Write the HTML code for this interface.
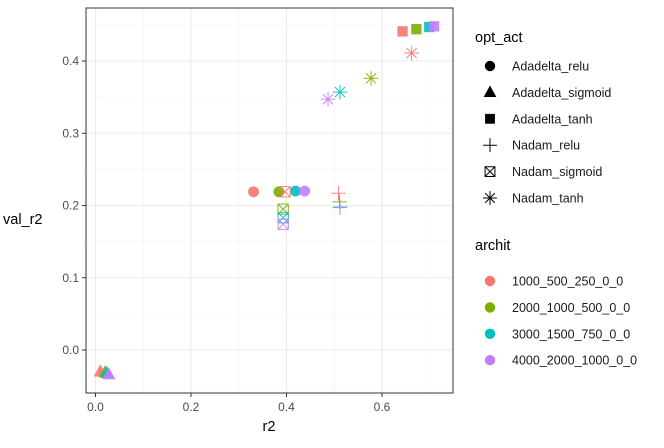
<!DOCTYPE html><html><head><meta charset="utf-8"><style>
body{margin:0;background:#fff;font-family:"Liberation Sans",sans-serif}
</style></head><body>
<svg width="664" height="443" font-family="Liberation Sans, sans-serif">
<g id="grid"></g>
<g id="pts"></g>
<rect x="86" y="8" width="367" height="385" fill="none" stroke="#333" stroke-width="1"/>
<g id="axes"></g>
<text x="269" y="431" font-size="14.5" text-anchor="middle" fill="#000">r2</text>
<text x="3" y="224" font-size="14.5" fill="#000">val_r2</text>
<g id="legend"></g>
</svg>
<script>
const xTicks=[0,0.2,0.4,0.6];
const yTicks=[0,0.1,0.2,0.3,0.4];
const colors=['#F8766D','#7CAE00','#00BFC4','#C77CFF'];
const archits=['1000_500_250_0_0','2000_1000_500_0_0','3000_1500_750_0_0','4000_2000_1000_0_0'];
const opts=['Adadelta_relu','Adadelta_sigmoid','Adadelta_tanh','Nadam_relu','Nadam_sigmoid','Nadam_tanh'];
const r2_adadelta_relu=[0.331,0.384,0.419,0.438];
const v_adadelta_relu=[0.219,0.219,0.220,0.220];
const r2_adadelta_sigmoid=[0.010,0.020,0.024,0.028];
const v_adadelta_sigmoid=[-0.030,-0.031,-0.032,-0.034];
const r2_adadelta_tanh=[0.643,0.672,0.699,0.709];
const v_adadelta_tanh=[0.441,0.444,0.447,0.448];
const r2_nadam_relu=[0.509,0.511,0.512,0.512];
const v_nadam_relu=[0.217,0.205,0.198,0.197];
const r2_nadam_sigmoid=[0.397,0.393,0.393,0.393];
const v_nadam_sigmoid=[0.219,0.195,0.183,0.174];
const r2_nadam_tanh=[0.662,0.577,0.512,0.487];
const v_nadam_tanh=[0.411,0.376,0.357,0.347];
const NS='http://www.w3.org/2000/svg';
const X=v=>95.5+v*477.5, Y=v=>350-v*722.5;
function mk(t,a,p){const e=document.createElementNS(NS,t);for(const k in a)e.setAttribute(k,a[k]);(p||document.getElementById('pts')).appendChild(e);return e;}
const grid=document.getElementById('grid'),axes=document.getElementById('axes');
mk('rect',{x:86,y:8,width:367,height:385,fill:'#fff'},grid);
for(let i=-0.05;i<0.47;i+=0.1){const l=mk('line',{x1:86,x2:453,y1:Y(i),y2:Y(i),stroke:'#f2f2f2','stroke-width':0.6},grid);}
for(let i=0.1;i<0.75;i+=0.2){const l=mk('line',{y1:8,y2:393,x1:X(i),x2:X(i),stroke:'#f2f2f2','stroke-width':0.6},grid);}
xTicks.forEach(t=>{const l=mk('line',{y1:8,y2:393,x1:X(t),x2:X(t),stroke:'#ebebeb','stroke-width':1.1},grid);
mk('line',{y1:393,y2:397,x1:X(t),x2:X(t),stroke:'#333'},axes);
const tx=mk('text',{x:X(t),y:411,'font-size':12,'text-anchor':'middle',fill:'#4d4d4d'},axes);tx.textContent=t.toFixed(1);});
yTicks.forEach(t=>{const l=mk('line',{x1:86,x2:453,y1:Y(t),y2:Y(t),stroke:'#ebebeb','stroke-width':1.1},grid);
mk('line',{x1:82,x2:86,y1:Y(t),y2:Y(t),stroke:'#333'},axes);
const tx=mk('text',{x:79,y:Y(t)+4,'font-size':12,'text-anchor':'end',fill:'#4d4d4d'},axes);tx.textContent=t.toFixed(1);});
function shape(s,x,y,c,p,sz){sz=sz||1.1;const g=mk('g',{},p);const r=5.5*sz;
if(s==0)mk('circle',{cx:x,cy:y,r:r*0.9,fill:c},g);
else if(s==1)mk('polygon',{points:`${x},${y-r*1.2} ${x-r*1.1},${y+r*0.8} ${x+r*1.1},${y+r*0.8}`,fill:c},g);
else if(s==2)mk('rect',{x:x-r*0.85,y:y-r*0.85,width:r*1.7,height:r*1.7,fill:c},g);
else if(s==3){mk('path',{d:`M${x-r*1.2},${y}H${x+r*1.2}M${x},${y-r*1.2}V${y+r*1.2}`,stroke:c,'stroke-width':1,fill:'none'},g);}
else if(s==4){const a=r*0.85;mk('path',{d:`M${x-a},${y-a}h${2*a}v${2*a}h${-2*a}zM${x-a},${y-a}L${x+a},${y+a}M${x+a},${y-a}L${x-a},${y+a}`,stroke:c,'stroke-width':1,fill:'none'},g);}
else{const a=r*1.2,b=a*0.7;mk('path',{d:`M${x-a},${y}H${x+a}M${x},${y-a}V${y+a}M${x-b},${y-b}L${x+b},${y+b}M${x+b},${y-b}L${x-b},${y+b}`,stroke:c,'stroke-width':1,fill:'none'},g);}
return g;}
const series=[[r2_adadelta_relu,v_adadelta_relu],[r2_adadelta_sigmoid,v_adadelta_sigmoid],[r2_adadelta_tanh,v_adadelta_tanh],[r2_nadam_relu,v_nadam_relu],[r2_nadam_sigmoid,v_nadam_sigmoid],[r2_nadam_tanh,v_nadam_tanh]];
series.forEach((s,si)=>{s[0].forEach((xv,i)=>{const g=shape(si,X(xv),Y(s[1][i]),colors[i],null);g.setAttribute('opacity','0.9');

});});
const lg=document.getElementById('legend');
let t=mk('text',{x:475,y:42,'font-size':14.5,fill:'#000'},lg);t.textContent='opt_act';
opts.forEach((o,i)=>{const y=66+i*26.4;const g=shape(i,490,y,'#000',lg,1.05);
const tt=mk('text',{x:512,y:y+4.5,'font-size':12.5,fill:'#1a1a1a'},lg);tt.textContent=o;});
t=mk('text',{x:475,y:250,'font-size':14.5,fill:'#000'},lg);t.textContent='archit';
archits.forEach((a,i)=>{const y=281+i*26.4;const c=mk('circle',{cx:490,cy:y,r:5.2,fill:colors[i]},lg);
const tt=mk('text',{x:512,y:y+4.5,'font-size':12.5,fill:'#1a1a1a'},lg);tt.textContent=a;});
</script></body></html>
